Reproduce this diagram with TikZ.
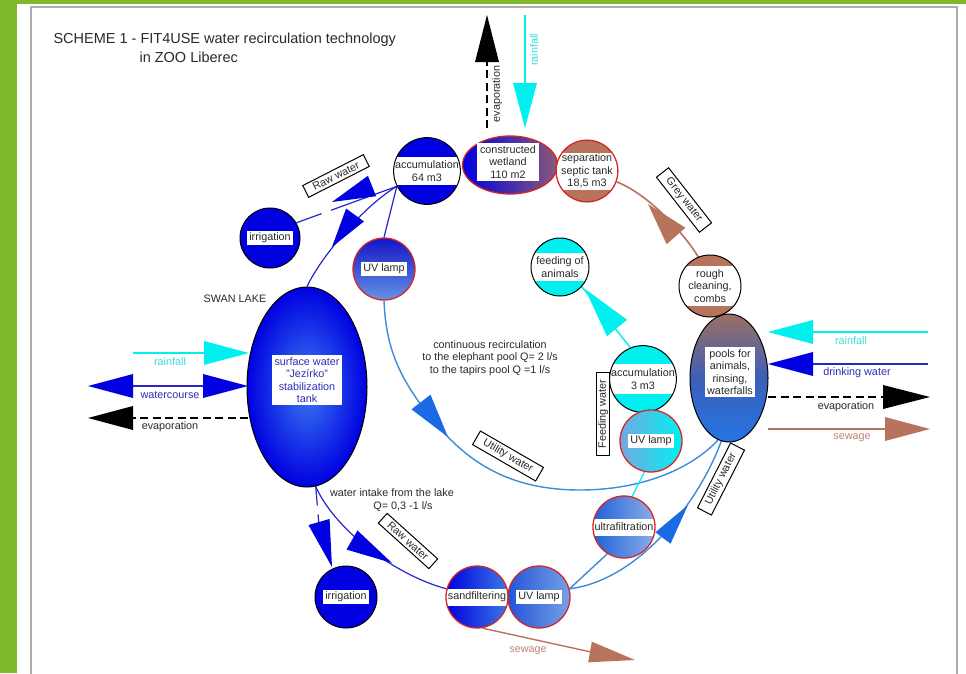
\documentclass[tikz,border=0pt]{standalone}
\usepackage{fontspec}
\setmainfont{Liberation Sans}
\usetikzlibrary{calc,shapes.geometric}
\definecolor{bgreen}{HTML}{7DB92A}
\definecolor{fblue}{HTML}{0000E0}
\definecolor{lineblue}{HTML}{2828C8}
\definecolor{acyan}{HTML}{00F0F0}
\definecolor{tcyan}{HTML}{3ADCDC}
\definecolor{brn}{HTML}{B8735C}
\definecolor{tbrn}{HTML}{BC8570}
\definecolor{rimred}{HTML}{D42828}
\definecolor{skyline}{HTML}{3C8CDC}
\definecolor{arrblue}{HTML}{1A6AE6}
\definecolor{txt}{HTML}{2A2A2A}
\definecolor{tblue}{HTML}{2E2EB4}
\definecolor{wetbrn}{HTML}{8A5A78}
\definecolor{poolbrn}{HTML}{9C6E62}
\definecolor{poolmid}{HTML}{3D5FB8}
\definecolor{poolblue}{HTML}{2474E4}
\definecolor{swanin}{HTML}{3A7CF2}
\definecolor{uvrl}{HTML}{74A8E2}
\definecolor{uvltop}{HTML}{1414C4}
\definecolor{uvlbot}{HTML}{6494E4}
\definecolor{sandr}{HTML}{3C78E4}
\definecolor{uvbl}{HTML}{2454DA}
\definecolor{uvbr}{HTML}{74A2E4}
\definecolor{ultl}{HTML}{2060D8}
\definecolor{ultr}{HTML}{8CB0E8}
\pgfdeclarelayer{back}
\pgfdeclarelayer{lines}
\pgfsetlayers{back,lines,main}
\newcommand\bigtri[4][fblue]{\fill[#1] (#2) -- ($(#3)!#4!90:(#2)$) -- ($(#3)!#4!-90:(#2)$) -- cycle;}
\begin{document}
\begin{tikzpicture}[x=1pt,y=-1pt,
  every node/.style={text=txt, font=\fontsize{10.8}{12.5}\selectfont},
  circ/.style={circle, minimum size=#1, inner sep=0pt, align=center, line width=1pt},
  band/.style={path picture={\fill[white] ([yshift=-#1]path picture bounding box.west) rectangle ([yshift=#1]path picture bounding box.east);}},
  lbl/.style={fill=white, inner sep=2.2pt, align=center},
  boxlbl/.style={draw=black, fill=white, line width=1pt, inner xsep=8.5pt, inner ysep=2.8pt},
  bline/.style={draw=lineblue, line width=1.2pt},
  sline/.style={draw=skyline, line width=1.4pt},
  cline/.style={draw=acyan, line width=1.4pt},
  brline/.style={draw=brn, line width=1.6pt},
  kdash/.style={draw=black, line width=1.4pt, dash pattern=on 8pt off 4.5pt},
]
\useasboundingbox (0,0) rectangle (966,673);
\begin{pgfonlayer}{back}
\fill[bgreen] (0,0) rectangle (966,673);
\fill[white] (17,4) rectangle (966,673);
\draw[gray!65, line width=1.3pt] (31,675) -- (31,7) -- (957,7) -- (957,675);
\end{pgfonlayer}

% title
\node[anchor=west, font=\fontsize{14.5}{16}\selectfont] (title1) at (50,40) {SCHEME 1 - FIT4USE water recirculation technology};
\node[anchor=west, font=\fontsize{14.5}{16}\selectfont] (title2) at (136,57) {in ZOO Liberec};

% ---- nodes ----
\node[circ=60pt, band=14pt, draw=black, fill=fblue] (acc64) at (427,171) {accumulation\\64 m3};
\node[ellipse, minimum width=95pt, minimum height=58pt, draw=rimred, line width=1.3pt, left color=fblue, right color=wetbrn, inner sep=0pt] (wetland) at (510,165) {};
\node[lbl, inner xsep=3pt, inner ysep=3pt] (wetlandt) at (508,162) {constructed\\wetland\\110 m2};
\node[circ=61pt, band=18.5pt, draw=rimred, line width=1.3pt, fill=brn] (septic) at (587,171) {separation\\septic tank\\18,5 m3};
\node[circ=62pt, band=20pt, draw=black, fill=brn] (rough) at (710,286) {rough\\cleaning,\\combs};
\node[circ=58pt, band=14pt, draw=black, fill=acyan] (feed) at (560,267) {feeding of\\animals};
\node[circ=62pt, band=15pt, draw=black, fill=acyan] (acc3) at (643,379) {accumulation\\3 m3};
\node[circ=62pt, draw=rimred, line width=1.3pt, left color=uvrl, right color=acyan] (uvR) at (651,441) {};
\node[lbl] (uvRt) at (uvR) {UV lamp};
\node[ellipse, minimum width=78pt, minimum height=128pt, draw=black, line width=1pt, top color=poolbrn, bottom color=poolblue, middle color=poolmid, inner sep=0pt] (pools) at (729,378) {};
\node[lbl] (poolst) at (730,372) {pools for\\animals,\\rinsing,\\waterfalls};
\node[ellipse, minimum width=120pt, minimum height=200pt, draw=black, line width=1pt, inner color=swanin, outer color=fblue, inner sep=0pt] (swan) at (307,387) {};
\node[lbl, text=tblue] (swant) at (307,380) {surface water\\"Jezírko"\\stabilization\\tank};
\node[circ=60pt, draw=black, fill=fblue] (irrT) at (270,238) {};
\node[lbl] (irrTt) at (irrT) {irrigation};
\node[circ=62pt, draw=rimred, line width=1.3pt, top color=uvltop, bottom color=uvlbot] (uvL) at (384,269) {};
\node[lbl] (uvLt) at (uvL) {UV lamp};
\node[circ=62pt, draw=black, fill=fblue] (irrB) at (346,597) {};
\node[lbl] (irrBt) at (irrB) {irrigation};
\node[circ=62pt, band=8.5pt, draw=rimred, line width=1.3pt, left color=fblue, right color=sandr] (sand) at (477,597) {sandfiltering};
\node[circ=62pt, draw=rimred, line width=1.3pt, left color=uvbl, right color=uvbr] (uvB) at (539,597) {};
\node[lbl] (uvBt) at (uvB) {UV lamp};
\node[circ=62pt, band=8.5pt, draw=rimred, line width=1.3pt, left color=ultl, right color=ultr] (ultra) at (624,527) {ultrafiltration};

\node (swanlake) at (235,299) {SWAN LAKE};
\node[align=center] (recirc) at (490,358) {continuous recirculation\\to the elephant pool Q= 2 l/s\\to the tapirs pool Q =1 l/s};
\node[align=center] (intake) at (392,500) {water intake from the lake\\\hspace*{22pt}Q= 0,3 -1 l/s};

% ---- free ends ----
\coordinate (evapTopBase) at (487,62);
\coordinate (evapTopEnd) at (487,128);
\coordinate (rainTopStart) at (525,15);
\coordinate (rainTopBase) at (525,84);
\coordinate (rainLs) at (133,353);
\coordinate (rainLb) at (205,353);
\coordinate (wcA) at (133,386);
\coordinate (wcB) at (204,386);
\coordinate (evLs) at (248,418);
\coordinate (evLb) at (132,418);
\coordinate (rainRs) at (928,332);
\coordinate (rainRb) at (812,332);
\coordinate (drinkRs) at (928,364);
\coordinate (drinkRb) at (812,364);
\coordinate (evRs) at (768,397);
\coordinate (evRb) at (884,397);
\coordinate (sewRs) at (768,429);
\coordinate (sewRb) at (886,429);
\coordinate (sewBb) at (591,652);
\coordinate (hub) at (acc64.207);
\coordinate (swanBot) at (swan.-85);

% ---- connectors ----
\begin{pgfonlayer}{lines}
\draw[kdash] (evapTopEnd) -- (evapTopBase);
\draw[cline] (rainTopStart) -- (rainTopBase);
\draw[bline, dash pattern=on 70pt off 10pt on 60pt] (hub) -- (irrT.30);
\draw[bline] (hub) .. controls (365,205) and (322,255) .. (swan.north);
\draw[bline] (hub) -- (uvL.north);
\draw[sline] (uvL.south) .. controls (386,350) and (400,385) .. (448,437)
   .. controls (480,470) and (520,490) .. (580,490)
   .. controls (640,490) and (690,470) .. (pools.-100);
\draw[cline] (acc3.112) -- (feed.-42);
\draw[cline, line width=1.2pt] (uvR.258) -- (ultra.75);
\draw[brline] (rough.112) .. controls (685,235) and (650,195) .. (septic.-20);
\draw[bline, dash pattern=on 19pt off 9pt on 40pt] (swanBot) -- (319,525);
\draw[bline] (swanBot) .. controls (335,530) and (395,575) .. (sand.165);
\draw[brline, line width=1.4pt] (sand.-80) -- (sewBb);
\draw[sline] (uvB.15) -- (ultra.238);
\draw[sline] (uvB.15) .. controls (640,580) and (700,500) .. (pools.-97);
\draw[cline] (rainLs) -- (rainLb);
\draw[bline] (wcA) -- (wcB);
\draw[kdash] (evLs) -- (evLb);
\draw[cline] (rainRs) -- (rainRb);
\draw[bline] (drinkRs) -- (drinkRb);
\draw[kdash] (evRs) -- (evRb);
\draw[brline, line width=1.4pt] (sewRs) -- (sewRb);
\end{pgfonlayer}

% ---- arrowheads ----
\bigtri[black]{487,15}{487,62}{12pt}
\bigtri[acyan]{525,128}{525,83}{12pt}
\bigtri{332,202}{372,186}{11pt}
\bigtri{332,247}{355,215}{11pt}
\bigtri[arrblue]{448,437}{421,402}{12pt}
\bigtri[acyan]{585,289}{617,328}{13pt}
\bigtri[brn]{648,204}{676,236}{12.5pt}
\bigtri{332,567}{319,522}{11pt}
\bigtri{392,563}{352,540}{11pt}
\bigtri[brn]{635,660}{590,652}{10.5pt}
\bigtri[arrblue]{688,505}{663,538}{9.5pt}
\bigtri[acyan]{249,353}{204,353}{12pt}
\bigtri{248,386}{203,386}{12pt}
\bigtri{88,386}{133,386}{12pt}
\bigtri[black]{88,418}{133,418}{12pt}
\bigtri[acyan]{768,332}{813,332}{12pt}
\bigtri{768,364}{813,364}{12pt}
\bigtri[black]{930,397}{883,397}{12pt}
\bigtri[brn]{930,429}{885,429}{12pt}

% ---- labels ----
\node[rotate=90] (evapT) at (497,94) {evaporation};
\node[rotate=90, text=tcyan] (rainT) at (534,50) {rainfall};
\node[boxlbl, rotate=27] (raw1) at (336,176) {Raw water};
\node[boxlbl, rotate=-52] (grey) at (684,200) {Grey water};
\node[boxlbl, rotate=-30] (util1) at (508,456) {Utility water};
\node[boxlbl, rotate=90, inner xsep=7pt, inner ysep=1.8pt] (feedw) at (603,414) {Feeding water};
\node[boxlbl, rotate=-42] (raw2) at (408,541) {Raw water};
\node[boxlbl, rotate=63] (util2) at (721,479) {Utility water};
\node[text=tcyan] (rainLt) at (170,362) {rainfall};
\node[text=tblue] (wcT) at (170,395) {watercourse};
\node (evLt) at (170,427) {evaporation};
\node[text=tcyan] (rainRt) at (851,341) {rainfall};
\node[text=tblue] (drinkRt) at (857,373) {drinking water};
\node (evRt) at (846,407) {evaporation};
\node[text=tbrn] (sewRt) at (852,438) {sewage};
\node[text=tbrn] (sewBt) at (528,651) {sewage};
\end{tikzpicture}
\end{document}
